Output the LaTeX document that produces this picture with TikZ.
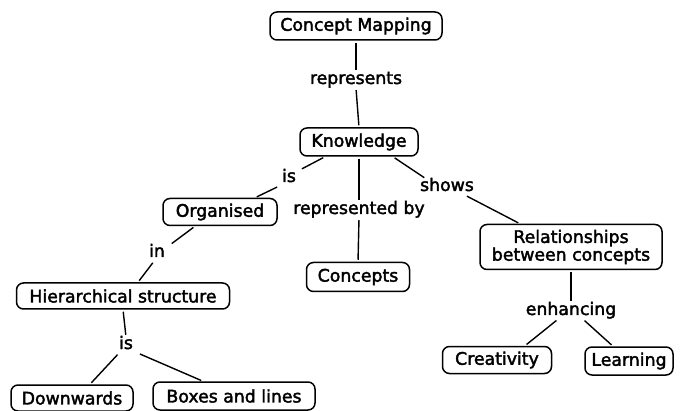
\documentclass[tikz,border=0pt]{standalone}
\usepackage{fontspec}
\newfontfamily\cmapfont{DejaVu Sans}[FakeBold=2.2]
\begin{document}
\begin{tikzpicture}[x=1pt,y=-1pt,
  every node/.style={font=\cmapfont\fontsize{17.3}{16.5}\selectfont},
  cbox/.style={draw,line width=1.5pt,rounded corners=7pt,inner sep=0pt,align=center},
  lbl/.style={inner sep=0pt,text height=12pt,text depth=4pt},
  conn/.style={line width=1.4pt,shorten <=2pt,shorten >=2pt}]
\useasboundingbox (0,0) rectangle (682,411);
% concepts
\node[cbox,minimum width=172pt,minimum height=28pt] (cm) at (356,26) {Concept Mapping};
\node[cbox,minimum width=118pt,minimum height=28pt] (kn) at (359,142) {Knowledge};
\node[cbox,minimum width=114pt,minimum height=27pt] (org) at (220,212) {Organised};
\node[cbox,minimum width=103pt,minimum height=29pt] (con) at (358,277) {Concepts};
\node[cbox,minimum width=182pt,minimum height=45pt] (rel) at (571,247) {Relationships\\between concepts};
\node[cbox,minimum width=109pt,minimum height=27pt] (cre) at (497,360) {Creativity};
\node[cbox,minimum width=88pt,minimum height=28pt] (lea) at (629,361) {Learning};
\node[cbox,minimum width=213pt,minimum height=26pt] (hier) at (123,296) {Hierarchical structure};
\node[cbox,minimum width=122pt,minimum height=26pt] (down) at (72,398) {Downwards};
\node[cbox,minimum width=162pt,minimum height=28pt] (boxl) at (234,396) {Boxes and lines};
% linking phrases
\node[lbl] (lrep) at (356,80) {represents};
\node[lbl] (lis1) at (289,178) {is};
\node[lbl] (lrepby) at (359,210) {represented by};
\node[lbl] (lshows) at (447,187) {shows};
\node[lbl] (lenh) at (571,311) {enhancing};
\node[lbl] (lin) at (157,253) {in};
\node[lbl] (lis2) at (126,345) {is};
% connectors
\draw[conn] (cm.south) -- (lrep.north);
\draw[conn] (lrep.south) -- (kn.north);
\draw[conn] ([xshift=-34pt]kn.south) -- ([xshift=4pt]lis1.north east);
\draw[conn] ([xshift=-3pt]lis1.south west) -- ([xshift=35pt]org.north);
\draw[conn] (kn.south) -- (lrepby.north);
\draw[conn] (lrepby.south) -- (con.north);
\draw[conn] ([xshift=34pt]kn.south) -- ([xshift=6pt]lshows.north west);
\draw[conn] ([xshift=-9pt]lshows.south east) -- ([xshift=-51pt]rel.north);
\draw[conn] (rel.south) -- (lenh.north);
\draw[conn] ([xshift=-13pt]lenh.south) -- ([xshift=28pt]cre.north);
\draw[conn] ([xshift=12pt]lenh.south) -- ([xshift=-16pt]lea.north);
\draw[conn] ([xshift=-25pt]org.south) -- ([xshift=5pt]lin.north east);
\draw[conn] ([xshift=-3pt]lin.south) -- ([xshift=15pt]hier.north);
\draw[conn] (hier.south) -- (lis2.north);
\draw[conn] (lis2.south west) -- ([xshift=18pt]down.north);
\draw[conn] ([xshift=5pt]lis2.south east) -- ([xshift=-31pt]boxl.north);
\end{tikzpicture}
\end{document}
